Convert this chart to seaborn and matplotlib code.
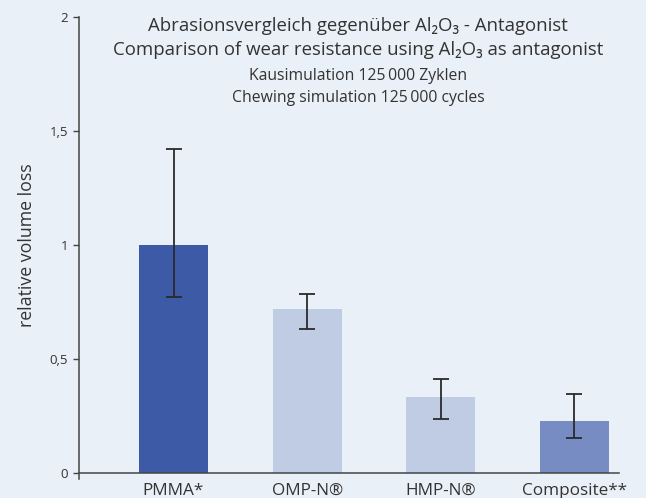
import matplotlib
matplotlib.use("Agg")
import matplotlib.pyplot as plt
import seaborn as sns
import pandas as pd

categories = ["PMMA*", "OMP-N®", "HMP-N®", "Composite**"]
values = [1.0, 0.72, 0.333, 0.228]
err_low = [0.771, 0.633, 0.237, 0.154]
err_high = [1.42, 0.785, 0.412, 0.346]
bar_colors = ["#3C5AA6", "#C0CCE4", "#C0CCE4", "#778CC2"]
ytick_vals = [0, 0.5, 1, 1.5, 2]
ytick_labels = ["0", "0,5", "1", "1,5", "2"]

bg = "#EAF0F7"
sns.set_theme(style="white")
plt.rcParams["font.family"] = ["Open Sans", "DejaVu Sans"]

fig = plt.figure(figsize=(6.46, 4.98), dpi=100, facecolor=bg)
ax = fig.add_axes([79 / 646, 1 - 473 / 498, (619 - 79) / 646, (473 - 17) / 498])
ax.set_facecolor(bg)

df = pd.DataFrame({"cat": categories, "val": values})
sns.barplot(data=df, x="cat", y="val", hue="cat", palette=bar_colors,
            legend=False, width=0.516, saturation=1, linewidth=0, ax=ax)

pos = list(range(len(categories)))
lower = [v - lo for v, lo in zip(values, err_low)]
upper = [hi - v for v, hi in zip(values, err_high)]
ax.errorbar(pos, values, yerr=[lower, upper], fmt="none", ecolor="#2a2a2a",
            elinewidth=1.3, capsize=5.5, capthick=1.3, zorder=5)

ax.set_xlim(-0.707, 3.333)
ax.set_ylim(0, 2)
ax.set_yticks(ytick_vals)
ax.set_yticklabels(ytick_labels, fontsize=9.5, color="#333333")
ax.set_xticks(pos)
ax.set_xticklabels(categories, fontsize=12.3, color="#333333")
ax.set_xlabel("")
ax.set_ylabel("relative volume loss", fontsize=12.8, color="#333333")
ax.yaxis.set_label_coords(-0.08, 0.5)

for s in ["top", "right"]:
    ax.spines[s].set_visible(False)
for s in ["left", "bottom"]:
    ax.spines[s].set_color("#444444")
    ax.spines[s].set_linewidth(1.1)
ax.spines["left"].set_bounds(-0.027, 2)
ax.tick_params(axis="y", which="both", left=True, length=4, width=1, color="#444444", pad=4)
ax.tick_params(axis="x", bottom=False, pad=1)

cx = 358 / 646
fig.text(cx, 1 - 26 / 498, "Abrasionsvergleich gegenüber Al₂O₃ - Antagonist",
         ha="center", va="center", fontsize=13.4, color="#333333")
fig.text(cx, 1 - 50 / 498, "Comparison of wear resistance using Al₂O₃ as antagonist",
         ha="center", va="center", fontsize=13.4, color="#333333")
fig.text(cx, 1 - 76 / 498, "Kausimulation 125\u2009000 Zyklen",
         ha="center", va="center", fontsize=11.3, color="#333333")
fig.text(cx, 1 - 98 / 498, "Chewing simulation 125\u2009000 cycles",
         ha="center", va="center", fontsize=11.3, color="#333333")

fig.savefig("out.png", dpi=100, facecolor=bg)
